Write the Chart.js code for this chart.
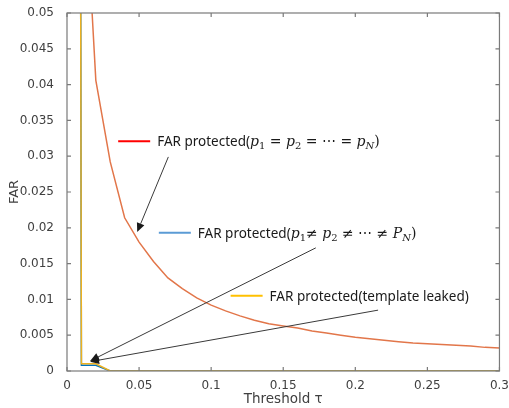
<!DOCTYPE html>
<html>
<head>
<meta charset="utf-8">
<script src="https://cdn.jsdelivr.net/npm/chart.js@4.4.0/dist/chart.umd.min.js"></script>
<style>
  html, body { margin: 0; padding: 0; background: #fff; }
  #wrap { width: 509px; height: 408px; }
</style>
</head>
<body>
<div id="wrap"><canvas id="farChart"></canvas></div>
<script>
// threshold samples
const taus = [0, 0.01, 0.02, 0.03, 0.04, 0.05, 0.06, 0.07, 0.08, 0.09, 0.10,
              0.11, 0.12, 0.13, 0.14, 0.15, 0.16, 0.17, 0.18, 0.19, 0.20,
              0.21, 0.22, 0.23, 0.24, 0.25, 0.26, 0.27, 0.28, 0.29, 0.30];
// FAR protected (p1 = p2 = ... = pN)
const farEqual = [null, 0.077, 0.0406, 0.0292, 0.0214, 0.0180, 0.0153, 0.0130, 0.0115, 0.0102, 0.0092,
                  0.0084, 0.0077, 0.0071, 0.0066, 0.0063, 0.0060, 0.0056, 0.0053, 0.0050, 0.0047,
                  0.0045, 0.0043, 0.0041, 0.0039, 0.0038, 0.0037, 0.0036, 0.0035, 0.0033, 0.0032];
// FAR protected (p1 != p2 != ... != PN)
const farUnequal = [1.0, 0.0008, 0.0008, 0, 0, 0, 0, 0, 0, 0, 0,
                    0, 0, 0, 0, 0, 0, 0, 0, 0, 0,
                    0, 0, 0, 0, 0, 0, 0, 0, 0, 0];
// FAR protected (template leaked)
const farLeaked = [1.0, 0.001, 0.001, 0, 0, 0, 0, 0, 0, 0, 0,
                   0, 0, 0, 0, 0, 0, 0, 0, 0, 0,
                   0, 0, 0, 0, 0, 0, 0, 0, 0, 0];

const xTicks = [0, 0.05, 0.1, 0.15, 0.2, 0.25, 0.3];
const xTickLabels = ['0', '0.05', '0.1', '0.15', '0.2', '0.25', '0.3'];
const yTicks = [0, 0.005, 0.01, 0.015, 0.02, 0.025, 0.03, 0.035, 0.04, 0.045, 0.05];
const yTickLabels = ['0', '0.005', '0.01', '0.015', '0.02', '0.025', '0.03', '0.035', '0.04', '0.045', '0.05'];

const toPoints = vals => taus.map((t, i) => ({ x: t, y: vals[i] }));

// legend text pieces: [text, font, subscript drop]
const SANS = '13.5px "Noto Sans"';
const MI = 'italic 14px "DejaVu Serif"';
const MO = '14px "DejaVu Serif"';
const SUB = '10px "DejaVu Serif"';
const SUBI = 'italic 10px "DejaVu Serif"';
const labelEqual = [['FAR protected(', SANS], ['p', MI], ['1', SUB, 3], [' = ', MO], ['p', MI], ['2', SUB, 3],
                    [' = ⋯ = ', MO], ['p', MI], ['N', SUBI, 3], [')', MO]];
const labelUnequal = [['FAR protected(', SANS], ['p', MI], ['1', SUB, 3], ['≠ ', MO], ['p', MI], ['2', SUB, 3],
                      [' ≠ ⋯ ≠ ', MO], ['P', MI], ['N', SUBI, 3], [')', MO]];
const labelLeaked = [['FAR protected(template leaked)', SANS]];

// annotation anchors in data units
const notes = [
  { color: '#FF0000', at: [0.0355, 0.0321], parts: labelEqual },
  { color: '#5B9BD5', at: [0.0637, 0.0193], parts: labelUnequal },
  { color: '#FFC000', at: [0.1135, 0.0105], parts: labelLeaked }
];
const arrows = [
  { from: [0.0703, 0.0299], to: [0.0487, 0.0194] },
  { from: [0.1726, 0.0172], to: [0.0160, 0.0014] },
  { from: [0.2158, 0.0085], to: [0.0160, 0.0013] }
];

function drawArrow(ctx, x1, y1, x2, y2) {
    const ang = Math.atan2(y2 - y1, x2 - x1);
    const len = 9, half = 4;
    const bx = x2 - len * Math.cos(ang), by = y2 - len * Math.sin(ang);
    ctx.beginPath();
    ctx.moveTo(x1, y1);
    ctx.lineTo(bx, by);
    ctx.stroke();
    ctx.beginPath();
    ctx.moveTo(x2, y2);
    ctx.lineTo(bx + half * Math.sin(ang), by - half * Math.cos(ang));
    ctx.lineTo(bx - half * Math.sin(ang), by + half * Math.cos(ang));
    ctx.closePath();
    ctx.fill();
}

const framePlugin = {
    id: 'frame',
    afterDatasetsDraw(chart) {
        const { ctx, chartArea: { left, right, top, bottom }, scales: { x, y } } = chart;
        ctx.save();
        ctx.strokeStyle = '#7a7a7a';
        ctx.lineWidth = 1.2;
        ctx.strokeRect(left, top, right - left, bottom - top);
        ctx.beginPath();
        xTicks.forEach(v => {
            const px = x.getPixelForValue(v);
            ctx.moveTo(px, bottom); ctx.lineTo(px, bottom - 4);
            ctx.moveTo(px, top); ctx.lineTo(px, top + 4);
        });
        yTicks.forEach(v => {
            const py = y.getPixelForValue(v);
            ctx.moveTo(left, py); ctx.lineTo(left + 4, py);
            ctx.moveTo(right, py); ctx.lineTo(right - 4, py);
        });
        ctx.stroke();

        // arrows
        ctx.strokeStyle = '#3a3a3a';
        ctx.fillStyle = '#1a1a1a';
        ctx.lineWidth = 1;
        arrows.forEach(a => {
            drawArrow(ctx, x.getPixelForValue(a.from[0]), y.getPixelForValue(a.from[1]),
                      x.getPixelForValue(a.to[0]), y.getPixelForValue(a.to[1]));
        });

        // hand-placed legend entries
        notes.forEach(n => {
            const px = x.getPixelForValue(n.at[0]);
            const py = y.getPixelForValue(n.at[1]);
            ctx.strokeStyle = n.color;
            ctx.lineWidth = 2;
            ctx.beginPath();
            ctx.moveTo(px, py);
            ctx.lineTo(px + 32, py);
            ctx.stroke();
            let cx = px + 39;
            ctx.fillStyle = '#1a1a1a';
            ctx.textBaseline = 'alphabetic';
            n.parts.forEach(([txt, font, dy]) => {
                ctx.font = font;
                ctx.fillText(txt, cx, py + 5 + (dy || 0));
                cx += ctx.measureText(txt).width;
            });
        });
        ctx.restore();
    }
};

new Chart(document.getElementById('farChart'), {
    type: 'line',
    data: {
        datasets: [
            { label: 'FAR protected(template leaked)', data: toPoints(farLeaked),
              borderColor: '#EDB120', borderWidth: 1.5, pointRadius: 0, tension: 0 },
            { label: 'FAR protected(p1 != p2 != ... != PN)', data: toPoints(farUnequal),
              borderColor: '#0072BD', borderWidth: 1.5, pointRadius: 0, tension: 0 },
            { label: 'FAR protected(p1 = p2 = ... = pN)', data: toPoints(farEqual),
              borderColor: '#E2764A', borderWidth: 1.5, pointRadius: 0, tension: 0 }
        ]
    },
    options: {
        responsive: true,
        maintainAspectRatio: false,
        animation: false,
        layout: { padding: { top: 13, right: 6, left: 0, bottom: 0 } },
        plugins: { legend: { display: false }, tooltip: { enabled: false } },
        scales: {
            x: {
                type: 'linear', min: 0, max: 0.3,
                afterBuildTicks: s => { s.ticks = xTicks.map(v => ({ value: v })); },
                afterFit: s => { s.height = 37; },
                grid: { display: false },
                border: { display: false },
                ticks: {
                    autoSkip: false, maxRotation: 0, padding: 0,
                    color: '#404040', font: { family: 'DejaVu Sans', size: 12 },
                    callback: (v, i) => xTickLabels[i]
                },
                title: { display: true, text: 'Threshold τ', color: '#404040',
                         font: { family: 'DejaVu Sans', size: 13.5 }, padding: { top: 0, bottom: 0 } }
            },
            y: {
                type: 'linear', min: 0, max: 0.05,
                afterBuildTicks: s => { s.ticks = yTicks.map(v => ({ value: v })); },
                afterFit: s => { s.width = 67; },
                grid: { display: false },
                border: { display: false },
                ticks: {
                    autoSkip: false, padding: 5,
                    color: '#404040', font: { family: 'DejaVu Sans', size: 12 },
                    callback: (v, i) => yTickLabels[i]
                },
                title: { display: true, text: 'FAR', color: '#404040',
                         font: { family: 'DejaVu Sans', size: 13 }, padding: { top: 7, bottom: 0 } }
            }
        }
    },
    plugins: [framePlugin]
});
</script>
</body>
</html>
